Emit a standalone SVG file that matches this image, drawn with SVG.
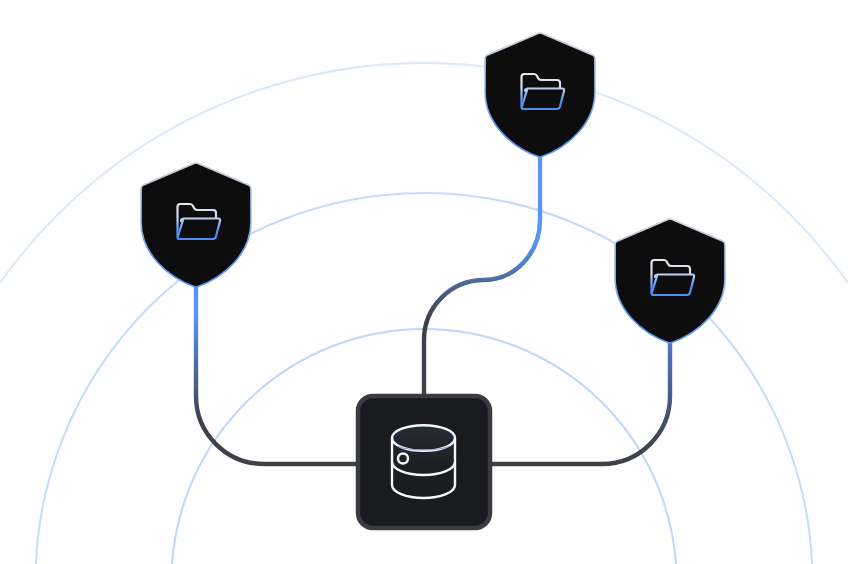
<svg xmlns="http://www.w3.org/2000/svg" width="848" height="564" viewBox="0 0 848 564">
<style>
.ring{fill:none;stroke-width:2}
.link{fill:none;stroke-width:4.400}
.sh{fill:#0d0d0d;stroke:url(#shieldStroke);stroke-width:1.700;stroke-linejoin:round}
.fo{fill:none;stroke:url(#folderStroke);stroke-width:2.200;stroke-linejoin:round;stroke-linecap:round}
.db{fill:none;stroke:#f4f6fa;stroke-width:2.400}
</style>
<defs>
<linearGradient id="shieldStroke" x1="0" y1="0" x2="0" y2="1"><stop offset="0" stop-color="#cfd1d6"/><stop offset=".45" stop-color="#9db9e8"/><stop offset=".75" stop-color="#5b96f5"/></linearGradient>
<linearGradient id="folderStroke" gradientUnits="userSpaceOnUse" x1="0" y1="74" x2="0" y2="109"><stop offset="0" stop-color="#e8e9ec"/><stop offset=".35" stop-color="#cfdcf2"/><stop offset=".8" stop-color="#4f8ff5"/></linearGradient>
<linearGradient id="dbFill" x1="0" y1="0" x2="0" y2="1"><stop offset="0" stop-color="#232b35"/><stop offset=".6" stop-color="#1c1e24"/><stop offset="1" stop-color="#1a1b20"/></linearGradient>
<linearGradient id="lMid" gradientUnits="userSpaceOnUse" x1="0" y1="157" x2="0" y2="395"><stop offset=".35" stop-color="#5b96f5"/><stop offset=".68" stop-color="#3f4148"/></linearGradient>
<linearGradient id="lLeft" gradientUnits="userSpaceOnUse" x1="0" y1="287" x2="0" y2="464"><stop offset=".15" stop-color="#5b96f5"/><stop offset=".75" stop-color="#3f4148"/></linearGradient>
<linearGradient id="lRight" gradientUnits="userSpaceOnUse" x1="0" y1="343" x2="0" y2="464"><stop offset="0" stop-color="#4f76c0"/><stop offset=".9" stop-color="#3f4148"/></linearGradient>
<g id="shield">
<path class="sh" d="M538.500 33.300 L487 55.300 Q485 56.200 485 59 L485 92 C485 122 510 147 540 157.300 C570 147 595 122 595 92 L595 59 Q595 56.200 593 55.300 L541.500 33.300 Q540 32.700 538.500 33.300Z"/>
<path class="fo" d="M525 91 L525 90 Q525.800 88.500 528 88.500 L562 88.500 Q564.800 88.500 564 91 L560 106.500 Q559.300 109 557 109 L523.500 109 Q521.500 109 521.500 107 L521.500 77 Q521.500 74 524.500 74 L534 74 Q536 74 537 76 L538 78 Q539 80 541 80 L557 80 Q560 80 560 83 L560 88"/>
<path class="fo" d="M527 90 L521.800 107"/>
</g>
</defs>
<g id="rings">
<circle class="ring" cx="424" cy="581.500" r="518.500" stroke="#dbe7fb"/>
<circle class="ring" cx="424" cy="581.500" r="388.500" stroke="#c6dbfb"/>
<circle class="ring" cx="424" cy="581.500" r="252.500" stroke="#c0d7fb"/>
</g>
<g id="connectors">
<path class="link" stroke="url(#lLeft)" d="M196 287 V396 A68 68 0 0 0 264 464 H358"/>
<path class="link" stroke="url(#lMid)" d="M424 395 V340 A60 60 0 0 1 484 280 A56 60 0 0 0 540 220 V157"/>
<path class="link" stroke="url(#lRight)" d="M670 343 V396 A68 68 0 0 1 602 464 H490"/>
</g>
<g id="shield-left"><use href="#shield" x="-344" y="130"/></g>
<g id="shield-top"><use href="#shield"/></g>
<g id="shield-right"><use href="#shield" x="130" y="186"/></g>
<g id="database">
<rect x="358" y="396" width="132" height="132" rx="15" fill="#1a1b20" stroke="#3a3a42" stroke-width="4.500"/>
<path d="M392 438 A31.500 12.800 0 0 1 455 438 V485 C455 492 441 498 423.500 498 S392 492 392 485Z" fill="url(#dbFill)"/>
<path class="db" d="M392 438 V485 C392 492 406 498 423.500 498 S455 492 455 485 V438"/>
<path class="db" d="M392 462 C392 469 406 475 423.500 475 S455 469 455 462"/>
<ellipse class="db" cx="423.500" cy="438" rx="31.500" ry="12.800"/>
<path d="M398 446.500 C408 451 439 451 449 446.500" fill="none" stroke="#7f9cc8" stroke-width="1"/>
<circle class="db" cx="403" cy="458.500" r="5"/>
</g>
</svg>
